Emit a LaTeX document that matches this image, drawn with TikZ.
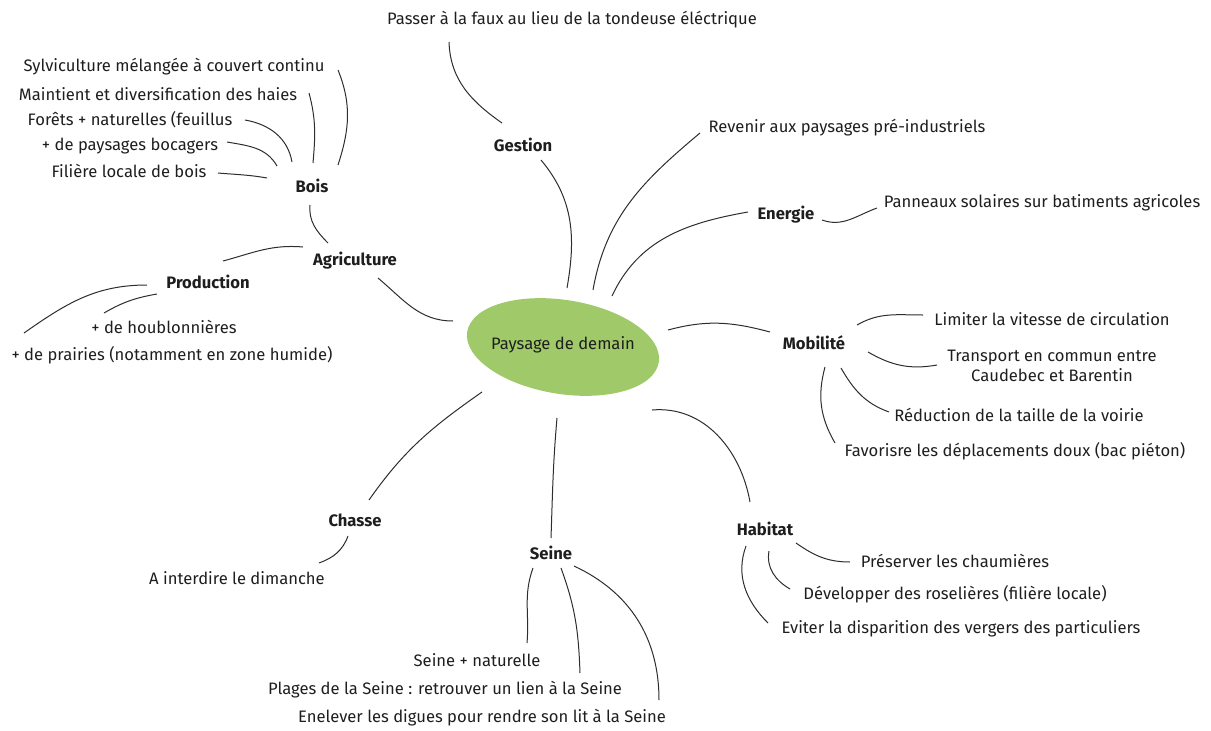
\documentclass[tikz,border=0pt]{standalone}
\usepackage{fontspec}
\setmainfont{Fira Sans}
\usetikzlibrary{calc,shapes.geometric}
\definecolor{leaf}{RGB}{160,201,105}
\definecolor{ink}{RGB}{30,30,30}
\definecolor{wire}{RGB}{45,45,45}
\begin{document}
\begin{tikzpicture}[x=1pt,y=1pt,
  lbl/.style={font=\fontsize{16.6}{19.5}\selectfont, text=ink, inner sep=2pt},
  hd/.style={lbl, font=\fontsize{16.6}{19.5}\selectfont\bfseries},
  ln/.style={draw=wire, line width=1pt}]
\useasboundingbox (0,0) rectangle (1211,-731);
% centre
\fill[leaf, rotate around={-9:(563,-347)}] (563,-347) ellipse (97 and 47);
\node[lbl] (c) at (563,-345) {Paysage de demain};
% branches
\node[lbl] (passer) at (572,-20) {Passer à la faux au lieu de la tondeuse éléctrique};
\node[hd] (gestion) at (523,-145) {Gestion};
\node[lbl] (revenir) at (847,-128) {Revenir aux paysages pré-industriels};
\node[hd] (energie) at (786,-215) {Energie};
\node[lbl] (panneaux) at (1042,-203) {Panneaux solaires sur batiments agricoles};
\node[hd] (mobilite) at (814,-343) {Mobilité};
\node[lbl] (limiter) at (1052,-319) {Limiter la vitesse de circulation};
\node[lbl, align=center] (transport) at (1052,-366) {Transport en commun entre\\Caudebec et Barentin};
\node[lbl] (reduction) at (1019,-415) {Réduction de la taille de la voirie};
\node[lbl] (favorisre) at (1015,-451) {Favorisre les déplacements doux (bac piéton)};
\node[hd] (habitat) at (765,-529) {Habitat};
\node[lbl] (preserver) at (955,-561) {Préserver les chaumières};
\node[lbl] (developper) at (955,-594) {Développer des roselières (filière locale)};
\node[lbl] (eviter) at (961,-629) {Eviter la disparition des vergers des particuliers};
\node[hd] (seine) at (551,-553) {Seine};
\node[lbl] (seinenat) at (477,-660) {Seine + naturelle};
\node[lbl] (plages) at (445,-690) {Plages de la Seine : retrouver un lien à la Seine};
\node[lbl] (enelever) at (482,-718) {Enelever les digues pour rendre son lit à la Seine};
\node[hd] (chasse) at (355,-520) {Chasse};
\node[lbl] (interdire) at (237,-578) {A interdire le dimanche};
\node[hd] (agri) at (355,-261) {Agriculture};
\node[hd] (prod) at (208,-282) {Production};
\node[lbl] (houblon) at (164,-327) {+ de houblonnières};
\node[lbl] (prairies) at (172,-355) {+ de prairies (notamment en zone humide)};
\node[hd] (bois) at (312,-186) {Bois};
\node[lbl] (sylvi) at (174,-67) {Sylviculture mélangée à couvert continu};
\node[lbl] (maintient) at (158,-94) {Maintient et diversification des haies};
\node[lbl] (forets) at (130,-120) {Forêts + naturelles (feuillus};
\node[lbl] (bocagers) at (130,-146) {+ de paysages bocagers};
\node[lbl] (filiere) at (129,-171) {Filière locale de bois};
% connectors
\draw[ln] ($(c)+(4,57)$) to[out=80,in=-50] ($(gestion)+(18,-15)$);
\draw[ln] ($(gestion)+(-21,22)$) to[out=145,in=-88] ($(passer)+(-123,-22)$);
\draw[ln] ($(c)+(30,55)$) to[out=80,in=-140] ($(revenir)+(-147,-5)$);
\draw[ln] ($(c)+(49,49)$) to[out=65,in=190] ($(energie)+(-38,3)$);
\draw[ln] ($(energie)+(36,-5)$) to[out=-20,in=200] ($(panneaux)+(-165,-5)$);
\draw[ln] ($(c)+(105,15)$) to[out=15,in=165] ($(mobilite)+(-44,11)$);
\draw[ln] ($(mobilite)+(43,18)$) to[out=30,in=180] ($(limiter)+(-129,4)$);
\draw[ln] ($(mobilite)+(54,-9)$) to[out=-30,in=190] ($(transport)+(-115,1)$);
\draw[ln] ($(mobilite)+(27,-25)$) to[out=-60,in=160] ($(reduction)+(-130,3)$);
\draw[ln] ($(mobilite)+(11,-24)$) to[out=-105,in=120] ($(favorisre)+(-180,8)$);
\draw[ln] ($(c)+(89,-65)$) to[out=5,in=100] ($(habitat)+(-15,27)$);
\draw[ln] ($(habitat)+(31,-14)$) to[out=-35,in=180] ($(preserver)+(-105,-1)$);
\draw[ln] ($(habitat)+(4,-22)$) to[out=-100,in=150] ($(developper)+(-165,5)$);
\draw[ln] ($(habitat)+(-19,-17)$) to[out=-110,in=135] ($(eviter)+(-193,6)$);
\draw[ln] ($(c)+(-6,-73)$) to[out=-95,in=88] ($(seine)+(0,15)$);
\draw[ln] ($(seine)+(-18,-15)$) to[out=-110,in=85] ($(seinenat)+(50,17)$);
\draw[ln] ($(seine)+(10,-15)$) to[out=-70,in=92] ($(plages)+(135,17)$);
\draw[ln] ($(seine)+(23,-13)$) to[out=-25,in=90] ($(enelever)+(177,18)$);
\draw[ln] ($(c)+(-81,-47)$) to[out=215,in=55] ($(chasse)+(14,20)$);
\draw[ln] ($(chasse)+(-7,-16)$) to[out=-110,in=20] ($(interdire)+(82,15)$);
\draw[ln] ($(c)+(-110,24)$) to[out=180,in=-40] ($(agri)+(23,-17)$);
\draw[ln] ($(agri)+(-27,18)$) to[out=135,in=-95] ($(bois)+(-2,-19)$);
\draw[ln] ($(agri)+(-52,14)$) to[out=175,in=15] ($(prod)+(15,21)$);
\draw[ln] ($(prod)+(-51,-12)$) to[out=190,in=30] ($(houblon)+(-60,14)$);
\draw[ln] ($(prod)+(-61,-3)$) to[out=180,in=35] ($(prairies)+(-148,22)$);
\draw[ln] ($(bois)+(26,21)$) to[out=72,in=-68] ($(sylvi)+(164,-3)$);
\draw[ln] ($(bois)+(1,23)$) to[out=85,in=-75] ($(maintient)+(151,1)$);
\draw[ln] ($(bois)+(-20,24)$) to[out=100,in=-10] ($(forets)+(115,0)$);
\draw[ln] ($(bois)+(-35,20)$) to[out=120,in=-10] ($(bocagers)+(97,4)$);
\draw[ln] ($(bois)+(-45,8)$) to[out=170,in=-5] ($(filiere)+(89,-2)$);
\end{tikzpicture}
\end{document}
